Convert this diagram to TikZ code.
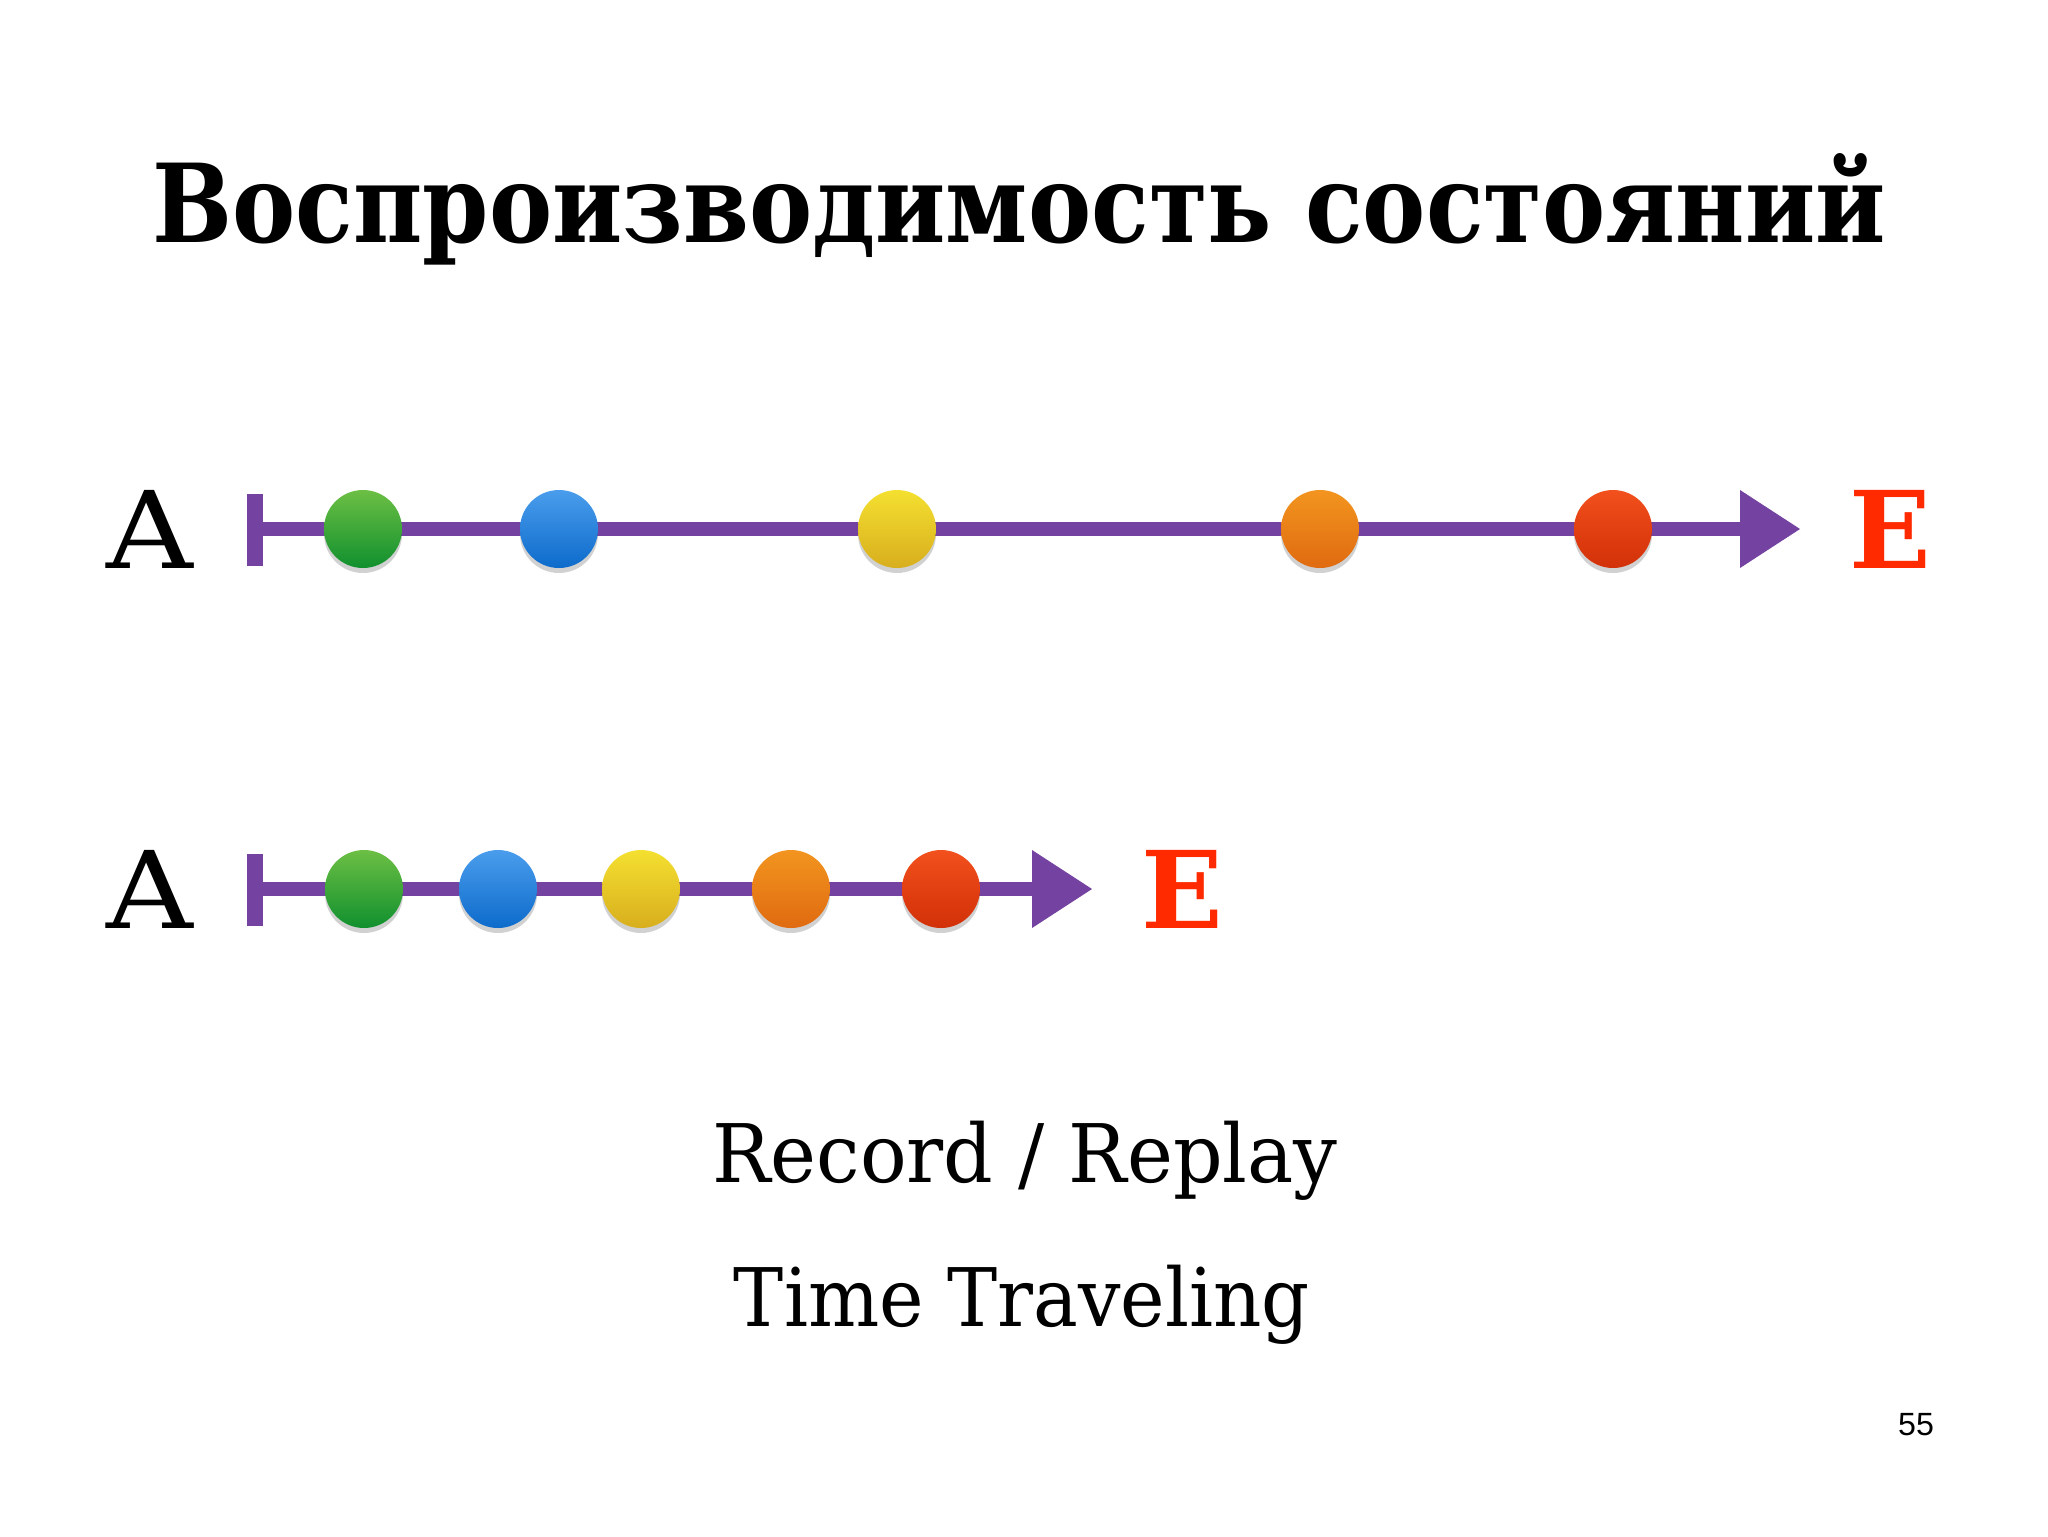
\documentclass[tikz,border=0pt]{standalone}
\usepackage{fontspec}
\setmainfont{DejaVu Serif}
\newfontfamily\numfont{Liberation Sans}
\usetikzlibrary{shadows}
\definecolor{lanepurple}{HTML}{7442A0}
\definecolor{ered}{HTML}{FF2A00}
\definecolor{gtop}{HTML}{6CBF44}\definecolor{gbot}{HTML}{10902E}
\definecolor{btop}{HTML}{4A9DEC}\definecolor{bbot}{HTML}{0D6BCB}
\definecolor{ytop}{HTML}{F4E030}\definecolor{ybot}{HTML}{D8AE1E}
\definecolor{otop}{HTML}{F2951F}\definecolor{obot}{HTML}{E06A10}
\definecolor{rtop}{HTML}{F2501C}\definecolor{rbot}{HTML}{D23008}
\tikzset{
  lane/.style={draw=lanepurple, line width=8pt},
  tickmark/.style={draw=lanepurple, line width=9pt},
  headfill/.style={fill=lanepurple},
  dot/.style={circle, inner sep=0pt, minimum size=1.56cm,
    drop shadow={shadow xshift=0cm, shadow yshift=-0.1cm, opacity=0.18, fill=black}},
  gdot/.style={dot, top color=gtop, bottom color=gbot},
  bdot/.style={dot, top color=btop, bottom color=bbot},
  ydot/.style={dot, top color=ytop, bottom color=ybot},
  odot/.style={dot, top color=otop, bottom color=obot},
  rdot/.style={dot, top color=rtop, bottom color=rbot},
  letter/.style={anchor=base, inner sep=0pt, font=\fontsize{61}{70}\selectfont},
  eletter/.style={anchor=base, inner sep=0pt, text=ered, font=\fontsize{61}{70}\selectfont\bfseries},
  titletext/.style={anchor=base, inner sep=0pt, font=\fontsize{62}{70}\selectfont\bfseries},
  subtext/.style={anchor=base, inner sep=0pt, font=\fontsize{46}{54}\selectfont},
  pagenum/.style={anchor=base, inner sep=0pt, font=\numfont\fontsize{18.3}{22}\selectfont},
}
\begin{document}
\begin{tikzpicture}[x=0.02cm,y=-0.02cm]
\useasboundingbox[fill=white] (0,0) rectangle (2048,1536);

\node[titletext] (title) at (1019,242) {\scalebox{0.87}[1]{Воспроизводимость состояний}};

% Row 1
\node[letter] (a1) at (150,568) {\scalebox{1.12}[1]{A}};
\node[eletter] (e1) at (1890,568) {E};
\coordinate (s1) at (255,529);
\coordinate (s1t) at (255,494);
\coordinate (s1b) at (255,566);
\coordinate (h1t) at (1740,490);
\coordinate (h1b) at (1740,568);
\coordinate (h1m) at (1745,529);
\coordinate (t1) at (1800,529);
\draw[lane] (s1) -- (h1m);
\draw[tickmark] (s1t) -- (s1b);
\fill[headfill] (h1t) -- (t1) -- (h1b) -- cycle;
\node[gdot] (g1) at (363,529) {};
\node[bdot] (b1) at (559,529) {};
\node[ydot] (y1) at (897,529) {};
\node[odot] (o1) at (1320,529) {};
\node[rdot] (r1) at (1613,529) {};

% Row 2
\node[letter] (a2) at (150,928) {\scalebox{1.12}[1]{A}};
\node[eletter] (e2) at (1182,928) {E};
\coordinate (s2) at (255,889);
\coordinate (s2t) at (255,854);
\coordinate (s2b) at (255,926);
\coordinate (h2t) at (1032,850);
\coordinate (h2b) at (1032,928);
\coordinate (h2m) at (1037,889);
\coordinate (t2) at (1092,889);
\draw[lane] (s2) -- (h2m);
\draw[tickmark] (s2t) -- (s2b);
\fill[headfill] (h2t) -- (t2) -- (h2b) -- cycle;
\node[gdot] (g2) at (364,889) {};
\node[bdot] (b2) at (498,889) {};
\node[ydot] (y2) at (641,889) {};
\node[odot] (o2) at (791,889) {};
\node[rdot] (r2) at (941,889) {};

\node[subtext] (rec) at (1025,1182) {\scalebox{0.96}[1]{Record / Replay}};
\node[subtext] (tt) at (1022,1326) {\scalebox{0.93}[1]{Time Traveling}};
\node[pagenum] (pg) at (1916,1435) {55};
\end{tikzpicture}
\end{document}
